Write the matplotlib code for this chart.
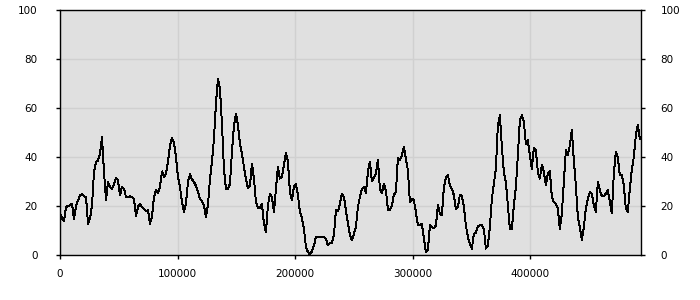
import numpy as np
import matplotlib
matplotlib.use("Agg")
import matplotlib.pyplot as plt
import matplotlib.transforms as mtransforms

# Series values, sampled evenly from x = 0 to x_end
values = [
    17, 15, 14, 19.6, 20, 20.3, 21, 14.5, 20, 22.3, 24.4, 24.8, 24, 23.7, 12.8, 14.8, 20.3, 33.9, 38, 38.6,
    41.4, 48, 34, 22.5, 29.8, 27.8, 27, 29, 31.4, 30.5, 24.4, 27.8, 27, 23.7, 23.7, 24, 23.7, 23, 16, 19.6,
    21, 19.6, 18.9, 17.8, 18.2, 12.8, 15.5, 23.7, 26.4, 25.4, 27.8, 34.1, 31.8, 33.2, 38, 44.8, 47.9, 45.7,
    40, 31.8, 27.8, 21.6, 17.5, 21, 29.8, 32.9, 30.9, 29.8, 28.2, 25.7, 23, 22, 20.3, 15.5, 20.3, 30.9,
    38, 47.5, 61.8, 72, 67.9, 53.6, 35.2, 26.8, 27, 29, 42, 52.9, 57.7, 52.9, 45.4, 41.4, 35.9, 30.9,
    27.3, 28.4, 37.3, 31.2, 21.6, 19.2, 19.2, 21, 12.8, 9.4, 20.3, 25, 23.7, 17.5, 27, 35.9, 31.2, 31.8,
    36.6, 41.8, 38, 25.7, 22.3, 27.8, 29, 24.4, 17.5, 15.1, 10.7, 3.3, 1.2, 0.1, 1.5, 3.9, 7.3, 7.3,
    7.3, 7.3, 7.3, 6.7, 3.9, 4.9, 5, 8, 18.2, 17.8, 21, 25, 23.7, 18.2, 12.8, 8.3, 6, 8.7, 11.4, 19.6,
    23.7, 27, 27.8, 25.4, 33.9, 38, 30, 31.4, 33.2, 39, 27, 25.4, 29, 26.4, 18.6, 18.2, 20.3, 24.6, 25.7,
    39.6, 38.6, 40.7, 44, 39.3, 34.6, 21.6, 23, 22.3, 17.5, 12.1, 12.1, 12.8, 6.7, 1.2, 1.9, 12.1, 11.4,
    11, 12.1, 20.3, 16.9, 16.2, 27.8, 31.4, 32.8, 28.4, 27, 24.4, 18.9, 19.6, 24.6, 24.1, 19.6, 12.1,
    7.3, 4.6, 2.6, 8.7, 9.1, 11.8, 12.1, 12.1, 10.7, 2.6, 3.9, 11.4, 23, 29.1, 35.2, 52.9, 57, 44.1,
    33.9, 29.8, 20.3, 10.7, 10.7, 20.3, 27.8, 40.7, 55, 57, 54.3, 45.4, 46.8, 40.7, 35.2, 43.7, 42.7,
    33.9, 31.2, 36.9, 33.9, 28.4, 33.2, 34.1, 23.7, 21.6, 21, 18.9, 10.5, 17, 29.8, 42.7, 40.7, 44.8,
    50.9, 38.6, 28.4, 15.5, 11.4, 6, 11.4, 18.9, 23, 25.7, 25, 20.3, 17.6, 29.8, 26.4, 24.1, 24.1, 25,
    26.4, 21.6, 17, 33.2, 42, 40, 32.5, 32.5, 28.4, 18.9, 17.6, 27, 35, 40, 48.8, 53, 47.5,
]
x_end = 493000
x_ticks = [0, 100000, 200000, 300000, 400000]
y_ticks = [0, 20, 40, 60, 80, 100]

x = np.linspace(0, x_end, len(values))

fig = plt.figure(figsize=(7, 3), dpi=100)
ax = fig.add_axes([60 / 700, 45 / 300, 581 / 700, 245 / 300])
ax.set_facecolor("#e0e0e0")
ax.plot(x, values, color="black", linewidth=0.7, antialiased=False, zorder=3)
ax.set_xlim(0, 494000)
ax.set_ylim(0, 100)
ax.set_xticks(x_ticks)
ax.set_xticklabels([str(t) for t in x_ticks])
ax.set_yticks(y_ticks)
ax.set_yticklabels([str(t) for t in y_ticks])
ax.grid(True, color="#d0d0d0", linewidth=1.0, zorder=0)
ax.set_axisbelow(True)
ax.tick_params(axis="both", labelsize=7.5, length=3, width=1, color="black",
               direction="out")
ax.tick_params(axis="x", pad=7)
ax.tick_params(axis="y", left=True, right=True, labelright=True, pad=13)
for s in ax.spines.values():
    s.set_color("black")
    s.set_linewidth(1.0)

# right-side labels sit a little closer to the frame than the left ones
off = mtransforms.ScaledTranslation(-2 / 72, 0, fig.dpi_scale_trans)
for t in ax.yaxis.get_major_ticks():
    t.label2.set_transform(t.label2.get_transform() + off)

fig.savefig("out.png", dpi=100)
